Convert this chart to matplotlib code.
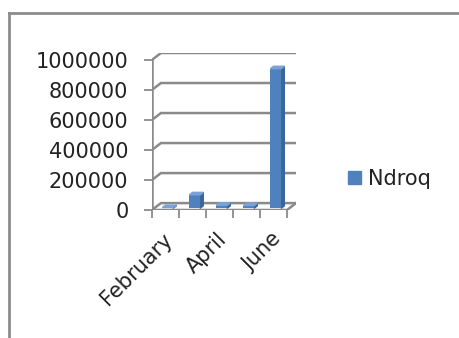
import numpy as np
import matplotlib
matplotlib.use('Agg')
import matplotlib.pyplot as plt
from matplotlib.patches import Polygon, Patch
from matplotlib.lines import Line2D
import matplotlib.transforms as mtransforms

# data
months = ['February', 'March', 'April', 'May', 'June']
ndroq = [5000, 90000, 20000, 18000, 930000]
shown_labels = ['February', 'April', 'June']
yticks = [0, 200000, 400000, 600000, 800000, 1000000]

# fake 3d depth, in data units
DX = 0.33
DY = 46000
BAR_W = 0.4
BAR_OFF = 0.25   # where the bar sits in the depth
BAR_D = 0.35     # bar depth as a share of the full depth

grid_col = '#8a8a8a'
front_col = '#4f81bd'
side_col = '#3a6699'
top_col = '#7aa2d6'
txt_col = '#222222'
fs = 15

fig = plt.figure(figsize=(4.6, 3.38), dpi=100)
ax = fig.add_axes([152 / 460, 1 - 210 / 338, 144 / 460, 157 / 338])
n = len(months)
x0, x1 = -0.5, n - 0.5
ax.set_xlim(x0, x1 + DX)
ax.set_ylim(0, yticks[-1] + DY)
for s in ax.spines.values():
    s.set_visible(False)

# walls and gridlines
for v in yticks:
    ax.plot([x0, x0 + DX, x1 + DX], [v, v + DY, v + DY], color=grid_col, lw=1.8,
            solid_joinstyle='miter', zorder=1)
ax.plot([x0, x1, x1 + DX], [0, 0, DY], color=grid_col, lw=1.8, zorder=1)
ax.plot([x0, x0], [0, yticks[-1]], color=grid_col, lw=1.8, zorder=1)

# bars: front face from ax.bar, side and top as polygons
xs = np.arange(n) + DX * BAR_OFF
base = DY * BAR_OFF
ax.bar(xs, ndroq, width=BAR_W, bottom=base, color=front_col, zorder=3)
ddx, ddy = DX * BAR_D, DY * BAR_D
for xc, v in zip(xs, ndroq):
    l, r = xc - BAR_W / 2, xc + BAR_W / 2
    t = base + v
    ax.add_patch(Polygon([(r, base), (r + ddx, base + ddy), (r + ddx, t + ddy), (r, t)],
                         closed=True, color=side_col, zorder=2))
    ax.add_patch(Polygon([(l, t), (r, t), (r + ddx, t + ddy), (l + ddx, t + ddy)],
                         closed=True, color=top_col, zorder=4))

# y axis ticks
ax.set_yticks(yticks)
ax.set_yticklabels([str(v) for v in yticks])
ax.tick_params(axis='y', length=6, width=1.3, color=grid_col, pad=11,
               labelsize=fs, labelcolor=txt_col)

# x axis: boundary ticks, labels every other month
ax.set_xticks(np.arange(n + 1) - 0.5, minor=True)
ax.set_xticks([months.index(m) for m in shown_labels])
ax.set_xticklabels(shown_labels, rotation=45, ha='right', va='top',
                   rotation_mode='anchor')
ax.tick_params(axis='x', which='minor', length=6, width=1.3, color=grid_col)
ax.tick_params(axis='x', which='major', length=0, pad=14, labelsize=fs,
               labelcolor=txt_col)
shift = mtransforms.ScaledTranslation(-3 / 100, 0, fig.dpi_scale_trans)
for lab in ax.get_xticklabels():
    lab.set_transform(lab.get_transform() + shift)

# legend
fig.legend(handles=[Patch(color=front_col, label='Ndroq')], loc='center left',
           bbox_to_anchor=(348 / 460, 1 - 179 / 338), frameon=False, fontsize=fs,
           handlelength=0.62, handleheight=0.62, handletextpad=0.35,
           borderpad=0, borderaxespad=0, labelcolor=txt_col)

# chart area border
fig.add_artist(Line2D([9 / 460, 9 / 460], [0, 1 - 13 / 338], color='#8c8c8c', lw=2))
fig.add_artist(Line2D([9 / 460, 1], [1 - 13 / 338, 1 - 13 / 338], color='#8c8c8c', lw=2))

fig.savefig('out.png', dpi=100)
